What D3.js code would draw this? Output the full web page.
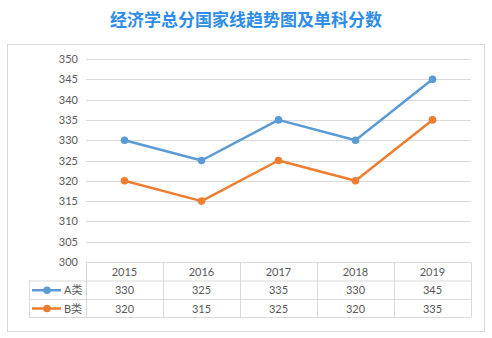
<!DOCTYPE html>
<html><head><meta charset="utf-8">
<script src="https://cdn.jsdelivr.net/npm/d3@7"></script>
<style>body{margin:0;background:#fff}svg{display:block}</style>
</head><body>
<svg id="c" width="492" height="338"></svg>
<script>
const title = "经济学总分国家线趋势图及单科分数";
const categories = ["2015","2016","2017","2018","2019"];
const seriesNames = ["A类","B类"];
const seriesA = [330,325,335,330,345];
const seriesB = [320,315,325,320,335];
const yTicks = [300,305,310,315,320,325,330,335,340,345,350];
const colors = ["#5b9bd5","#ed7d31"];
const series = [seriesA, seriesB];

const svg = d3.select("#c");
const font = "Lato, 'Noto Sans CJK SC', sans-serif";

svg.append("text").attr("x",246).attr("y",26).attr("text-anchor","middle")
  .attr("font-family","'Noto Sans CJK SC', sans-serif").attr("font-size",17).attr("font-weight","bold")
  .attr("fill","#2e8de8").text(title);

svg.append("rect").attr("x",7.5).attr("y",44.5).attr("width",477).attr("height",287)
  .attr("fill","#fff").attr("stroke","#d9d9d9").attr("stroke-width",1);

const x = d3.scaleBand().domain(categories).range([86,471]);
const y = d3.scaleLinear().domain([300,350]).range([262,59]);

// gridlines
svg.append("g").selectAll("line").data(yTicks.filter(t=>t>300)).join("line")
  .attr("x1",86).attr("x2",471).attr("y1",d=>Math.round(y(d))+0.5).attr("y2",d=>Math.round(y(d))+0.5)
  .attr("stroke","#d9d9d9").attr("stroke-width",1);

// y axis labels
const yAxis = d3.axisLeft(y).tickValues(yTicks).tickSize(0).tickPadding(8);
const ga = svg.append("g").attr("transform","translate(86,0)").call(yAxis);
ga.select(".domain").remove();
ga.selectAll("text").attr("font-family",font).attr("font-size",11).attr("fill","#595959");

// lines
const line = d3.line().x((d,i)=>x(categories[i])+x.bandwidth()/2).y(d=>y(d));
series.forEach((s,k)=>{
  svg.append("path").datum(s).attr("d",line).attr("fill","none")
    .attr("stroke",colors[k]).attr("stroke-width",2.5).attr("stroke-linejoin","round");
  svg.append("g").selectAll("circle").data(s).join("circle")
    .attr("cx",(d,i)=>x(categories[i])+x.bandwidth()/2).attr("cy",d=>y(d)).attr("r",3.8)
    .attr("fill",colors[k]);
});

// data table
const rows = [262.5, 281, 299.5, 317.5];
const tg = svg.append("g");
const grid = "#d9d9d9";
// horizontal lines
tg.append("line").attr("x1",86).attr("x2",471).attr("y1",rows[0]).attr("y2",rows[0]).attr("stroke",grid);
[rows[1],rows[2],rows[3]].forEach(r=>{
  tg.append("line").attr("x1",29).attr("x2",471).attr("y1",r).attr("y2",r).attr("stroke",grid);
});
// vertical lines
const vx = categories.map(c=>x(c)).concat([471]);
vx.forEach((v,i)=>{
  tg.append("line").attr("x1",Math.round(v)+0.5).attr("x2",Math.round(v)+0.5)
    .attr("y1",rows[0]).attr("y2",rows[3]).attr("stroke",grid);
});
tg.append("line").attr("x1",29.5).attr("x2",29.5).attr("y1",rows[1]).attr("y2",rows[3]).attr("stroke",grid);

// header
tg.selectAll("text.h").data(categories).join("text").attr("class","h")
  .attr("x",d=>x(d)+x.bandwidth()/2).attr("y",(rows[0]+rows[1])/2+4)
  .attr("text-anchor","middle").attr("font-family",font).attr("font-size",11).attr("fill","#595959").text(d=>d);

series.forEach((s,k)=>{
  const cy = (rows[k+1]+rows[k+2])/2;
  tg.selectAll("text.v"+k).data(s).join("text").attr("class","v"+k)
    .attr("x",(d,i)=>x(categories[i])+x.bandwidth()/2).attr("y",cy+4)
    .attr("text-anchor","middle").attr("font-family",font).attr("font-size",11).attr("fill","#595959").text(d=>d);
  tg.append("line").attr("x1",32).attr("x2",61).attr("y1",cy).attr("y2",cy)
    .attr("stroke",colors[k]).attr("stroke-width",2.5);
  tg.append("circle").attr("cx",47).attr("cy",cy).attr("r",3.8).attr("fill",colors[k]);
  tg.append("text").attr("x",64).attr("y",cy+4).attr("font-family",font).attr("font-size",11)
    .attr("fill","#595959").text(seriesNames[k]);
});
</script>
</body></html>
